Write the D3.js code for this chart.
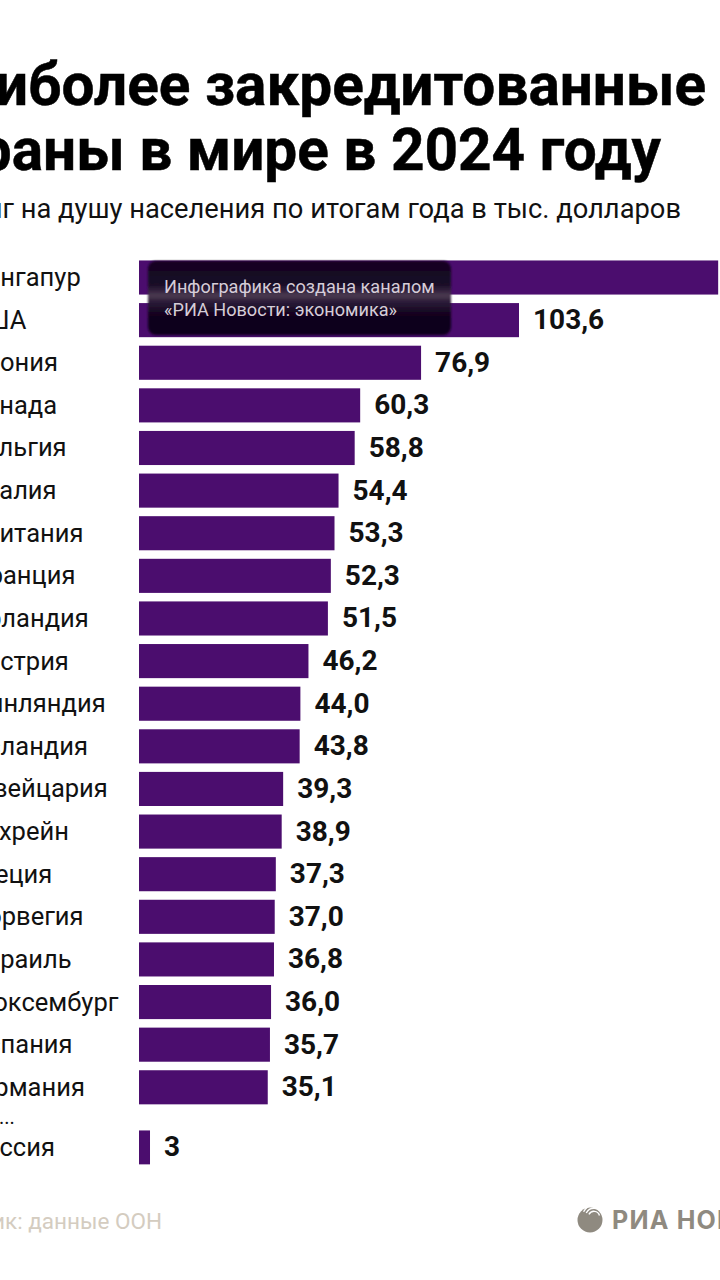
<!DOCTYPE html>
<html lang="ru">
<head>
<meta charset="utf-8">
<script src="https://cdn.jsdelivr.net/npm/d3@7"></script>
<style>
html, body { margin: 0; padding: 0; background: #fff; overflow: hidden; }
svg { display: block; font-family: Roboto, sans-serif; }
</style>
</head>
<body>
<div id="chart"></div>
<script>
const titleLines = ["Наиболее закредитованные", "страны в мире в 2024 году"];
const subtitle = "Госдолг на душу населения по итогам года в тыс. долларов";
const source = "Источник: данные ООН";
const badgeLines = ["Инфографика создана каналом", "«РИА Новости: экономика»"];

const countries = ["Сингапур", "США", "Япония", "Канада", "Бельгия", "Италия", "Британия", "Франция", "Ирландия", "Австрия",
    "Финляндия", "Исландия", "Швейцария", "Бахрейн", "Греция", "Норвегия", "Израиль", "Люксембург", "Испания", "Германия"];
const debts = [157.9, 103.6, 76.9, 60.3, 58.8, 54.4, 53.3, 52.3, 51.5, 46.2,
    44.0, 43.8, 39.3, 38.9, 37.3, 37.0, 36.8, 36.0, 35.7, 35.1];
const extraCountries = ["Россия"];
const extraDebts = [3];

const width = 720, height = 1280;
const barLeft = 139, labelLeft = -31;
const barColor = "#4b0d6e";
const logoColor = "#8f8a80";
const fmt = d => (Number.isInteger(d) && d < 10 ? String(d) : d.toFixed(1).replace(".", ","));

const svg = d3.select("#chart").append("svg")
    .attr("width", width)
    .attr("height", height);

const defs = svg.append("defs");
const grad = defs.append("linearGradient")
    .attr("id", "badgeFill")
    .attr("x1", 0).attr("x2", 0).attr("y1", 0).attr("y2", 1);
[[0, "#12041f"], [0.32, "#1a0a28"], [0.47, "#4a3a50"], [0.56, "#2a1a36"], [0.72, "#12031f"], [1, "#0e021b"]]
    .forEach(s => grad.append("stop").attr("offset", s[0]).attr("stop-color", s[1]));
defs.append("filter").attr("id", "soft")
    .append("feGaussianBlur").attr("stdDeviation", 1.2);

// header
svg.selectAll(".title")
    .data(titleLines)
    .enter().append("text")
    .attr("class", "title")
    .attr("x", (d, i) => [706, 661][i])
    .attr("y", (d, i) => 105 + i * 65)
    .attr("text-anchor", "end")
    .attr("font-size", 58.5)
    .attr("font-weight", 700)
    .attr("fill", "#000")
    .attr("stroke", "#000")
    .attr("stroke-width", 0.5)
    .text(d => d);

svg.append("text")
    .attr("x", 681)
    .attr("y", 218)
    .attr("text-anchor", "end")
    .attr("font-size", 27.3)
    .attr("fill", "#111")
    .text(subtitle);

// scales
const x = d3.scaleLinear().domain([0, 103.6]).range([barLeft, 519]);
const y = d3.scaleBand().domain(countries).range([256.2, 1108.6]).paddingInner(0.2).paddingOuter(0.1);
const yExtra = d3.scaleBand().domain(extraCountries).range([1126.2, 1168.6]).paddingInner(0.2).paddingOuter(0.1);

function drawRows(names, vals, scale) {
    const rows = svg.append("g").selectAll("g")
        .data(names.map((n, i) => ({ name: n, value: vals[i] })))
        .enter().append("g");

    rows.append("rect")
        .attr("x", x(0))
        .attr("y", d => scale(d.name))
        .attr("width", d => x(d.value) - x(0))
        .attr("height", scale.bandwidth())
        .attr("fill", barColor);

    rows.append("text")
        .attr("x", labelLeft)
        .attr("y", d => scale(d.name) + scale.bandwidth() / 2 + 8.5)
        .attr("font-size", 25.5)
        .attr("fill", "#111")
        .text(d => d.name);

    rows.append("text")
        .attr("x", d => x(d.value) + 14)
        .attr("y", d => scale(d.name) + scale.bandwidth() / 2 + 9)
        .attr("font-size", 28)
        .attr("font-weight", 700)
        .attr("fill", "#111")
        .text(d => fmt(d.value));
}

drawRows(countries, debts, y);
drawRows(extraCountries, extraDebts, yExtra);

svg.append("text")
    .attr("x", -1)
    .attr("y", 1124)
    .attr("font-size", 20)
    .attr("fill", "#111")
    .text("...");

// channel badge over the two first bars
const badge = svg.append("g");
badge.append("rect")
    .attr("x", 148)
    .attr("y", 261)
    .attr("width", 303)
    .attr("height", 74)
    .attr("rx", 8)
    .attr("fill", "url(#badgeFill)")
    .attr("filter", "url(#soft)");

badge.selectAll("text")
    .data(badgeLines)
    .enter().append("text")
    .attr("x", 164)
    .attr("y", (d, i) => 293 + i * 23)
    .attr("font-size", 18.1)
    .attr("fill", "#d5cdd8")
    .text(d => d);

// footer
svg.append("text")
    .attr("x", 162)
    .attr("y", 1229)
    .attr("text-anchor", "end")
    .attr("font-size", 22.5)
    .attr("fill", "#d4ccc0")
    .text(source);

const logo = svg.append("g").attr("transform", "translate(590,1220)");
logo.append("circle").attr("r", 12.5).attr("fill", logoColor);
[5, 8, 11].forEach((r, i) => {
    logo.append("path")
        .attr("d", d3.arc().innerRadius(r).outerRadius(r + 1.4).startAngle(-1.1).endAngle(1.3 - i * 0.1)())
        .attr("transform", "translate(4,-3)")
        .attr("fill", "#fff");
});

svg.append("text")
    .attr("x", 612)
    .attr("y", 1229)
    .attr("font-family", "Inter, Roboto, sans-serif")
    .attr("font-size", 25)
    .attr("font-weight", 700)
    .attr("letter-spacing", 1.2)
    .attr("fill", logoColor)
    .text("РИА НОВОСТИ");
</script>
</body>
</html>
